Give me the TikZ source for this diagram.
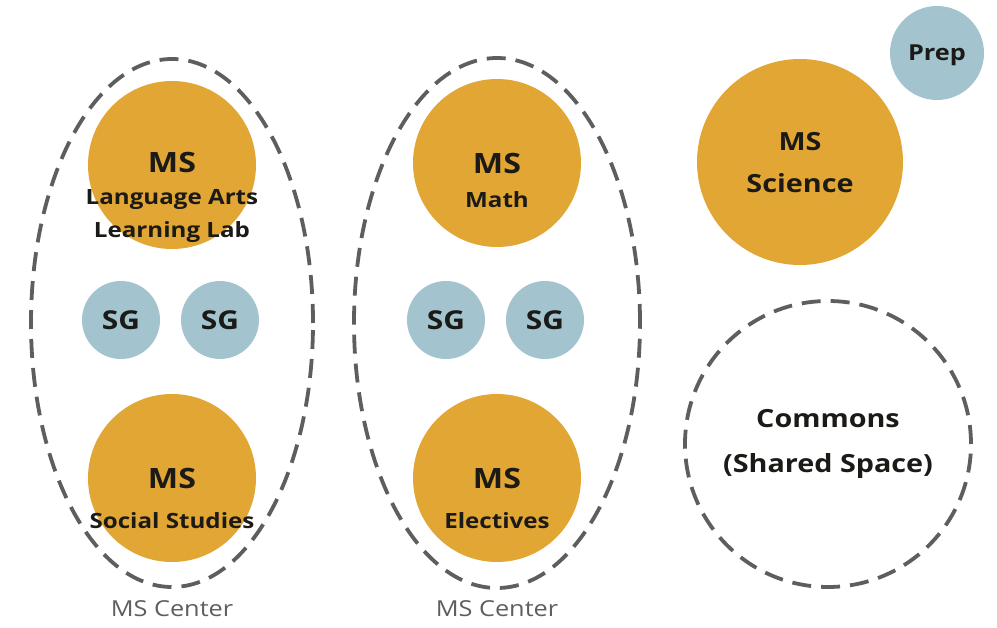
\documentclass[tikz,border=0pt]{standalone}
\usepackage{fontspec}
\setmainfont{Open Sans}[FakeStretch=1.15]
\usetikzlibrary{shapes.geometric}
\definecolor{gold}{HTML}{E2A634}
\definecolor{sky}{HTML}{A3C4CF}
\definecolor{ink}{HTML}{1C1A17}
\definecolor{rim}{HTML}{5E5E5E}
\begin{document}
\begin{tikzpicture}[x=1pt, y=-1pt,
    room/.style={circle, fill=gold, inner sep=0pt},
    small/.style={circle, fill=sky, inner sep=0pt, minimum size=78pt, text=ink, font=\bfseries\fontsize{26}{26}\selectfont},
    zone/.style={draw=rim, line width=3.8pt, dash pattern=on 19pt off 10pt, inner sep=0pt},
    head/.style={text=ink, font=\bfseries\fontsize{28}{28}\selectfont},
    sub/.style={text=ink, align=center, font=\bfseries\fontsize{21}{33}\selectfont},
    caption/.style={text=rim, font=\fontsize{22}{22}\selectfont}]
\useasboundingbox (0,0) rectangle (997,628);

\node[zone, ellipse, minimum width=282pt, minimum height=528pt] (lcenter) at (172,323) {};
\node[zone, ellipse, minimum width=286pt, minimum height=530pt] (mcenter) at (497,323) {};
\node[caption] (lcap) at (172,609) {MS Center};
\node[caption] (mcap) at (497,609) {MS Center};

\node[room, minimum size=168pt] (lang) at (172,165) {};
\node[head] at (172,163) {MS};
\node[sub] at (172,216) {Language Arts\\Learning Lab};
\node[small] (sg1) at (121,320) {SG};
\node[small] (sg2) at (220,320) {SG};
\node[room, minimum size=168pt] (soc) at (172,478) {};
\node[head] at (172,478) {MS};
\node[sub] at (172,521) {Social Studies};

\node[room, minimum size=168pt] (math) at (497,163) {};
\node[head] at (497,164) {MS};
\node[sub] at (497,200) {Math};
\node[small] (sg3) at (446,320) {SG};
\node[small] (sg4) at (545,320) {SG};
\node[room, minimum size=168pt] (elec) at (497,478) {};
\node[head] at (497,478) {MS};
\node[sub] at (497,521) {Electives};

\node[room, minimum size=206pt] (sci) at (800,162) {};
\node[head, align=center, font=\bfseries\fontsize{25}{42}\selectfont] at (800,163) {MS\\Science};
\node[small, minimum size=94pt, text depth=0pt, font=\bfseries\fontsize{22}{22}\selectfont] (prep) at (937,53) {Prep};

\node[zone, circle, minimum size=286pt] (commons) at (828,444) {};
\node[sub, font=\bfseries\fontsize{25}{45}\selectfont] at (828,444) {Commons\\(Shared Space)};

\end{tikzpicture}
\end{document}
